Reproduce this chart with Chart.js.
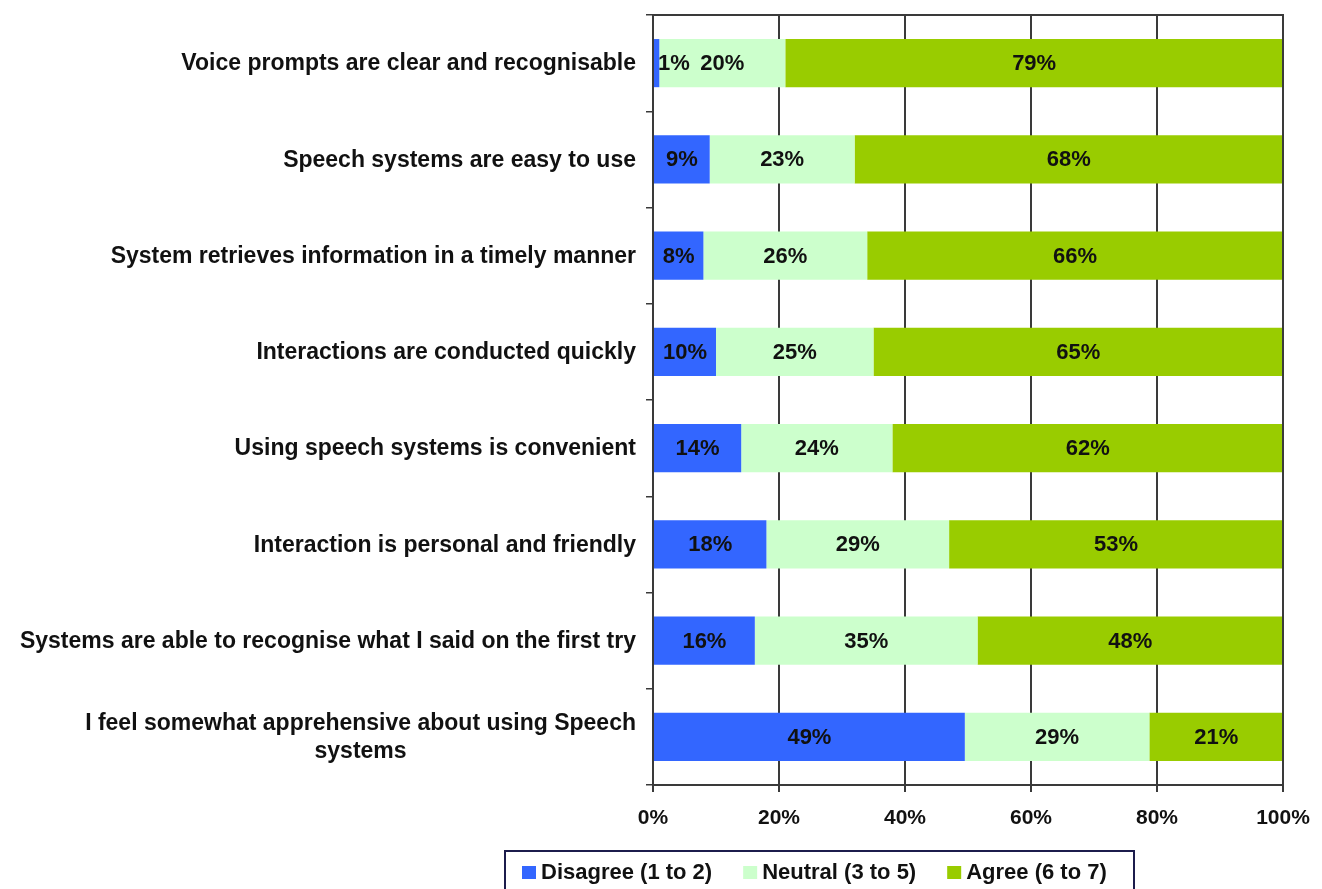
<!DOCTYPE html>
<html>
<head>
<meta charset="utf-8">
<script src="https://cdn.jsdelivr.net/npm/chart.js"></script>
<style>
  html, body { margin: 0; padding: 0; background: #fff; }
  canvas { display: block; }
</style>
</head>
<body>
<canvas id="survey" width="1322" height="889"></canvas>
<script>
// survey answers, per cent of respondents
const statements = [
  'Voice prompts are clear and recognisable',
  'Speech systems are easy to use',
  'System retrieves information in a timely manner',
  'Interactions are conducted quickly',
  'Using speech systems is convenient',
  'Interaction is personal and friendly',
  'Systems are able to recognise what I said on the first try',
  ['I feel somewhat apprehensive about using Speech', 'systems']
];
const disagree = [1, 9, 8, 10, 14, 18, 16, 49];
const neutral = [20, 23, 26, 25, 24, 29, 35, 29];
const agree = [79, 68, 66, 65, 62, 53, 48, 21];
const seriesNames = ['Disagree (1 to 2)', 'Neutral (3 to 5)', 'Agree (6 to 7)'];
const seriesColors = ['#3366FF', '#CCFFCC', '#99CC00'];
const xTicks = [0, 20, 40, 60, 80, 100];

const FONT = '"Liberation Sans", Arial, Helvetica, sans-serif';
const LINE = '#3a3a3a';

// 100% stacked: each row is scaled to its own total
const rows = [disagree, neutral, agree];
const totals = statements.map((_, i) => disagree[i] + neutral[i] + agree[i]);
const datasets = rows.map((vals, k) => ({
  label: seriesNames[k],
  raw: vals,
  data: vals.map((v, i) => v / totals[i] * 100),
  backgroundColor: seriesColors[k],
  borderWidth: 0,
  categoryPercentage: 1,
  barPercentage: 0.5
}));

const barValues = {
  id: 'barValues',
  afterDatasetsDraw(chart) {
    const ctx = chart.ctx;
    ctx.save();
    ctx.font = 'bold 22px ' + FONT;
    ctx.fillStyle = '#111';
    ctx.textAlign = 'center';
    ctx.textBaseline = 'middle';
    chart.data.datasets.forEach((ds, k) => {
      chart.getDatasetMeta(k).data.forEach((bar, i) => {
        const txt = ds.raw[i] + '%';
        const w = ctx.measureText(txt).width;
        const left = Math.min(bar.x, bar.base);
        let cx = (bar.x + bar.base) / 2;
        if (cx < left + w / 2 + 4) cx = left + w / 2 + 4;
        ctx.fillText(txt, cx, bar.y + 1);
      });
    });
    // frame round the plot
    const a = chart.chartArea;
    ctx.strokeStyle = LINE;
    ctx.lineWidth = 2;
    ctx.strokeRect(a.left, a.top, a.right - a.left, a.bottom - a.top);
    ctx.restore();
  }
};

const categoryLabels = {
  id: 'categoryLabels',
  afterDraw(chart) {
    const ctx = chart.ctx;
    const yScale = chart.scales.y;
    const right = chart.chartArea.left - 17;
    ctx.save();
    ctx.font = 'bold 23px ' + FONT;
    ctx.fillStyle = '#111';
    ctx.textAlign = 'center';
    ctx.textBaseline = 'middle';
    statements.forEach((s, i) => {
      const lines = Array.isArray(s) ? s : [s];
      const w = Math.max(...lines.map(l => ctx.measureText(l).width));
      const cx = right - w / 2;
      const cy = yScale.getPixelForValue(i) + 1;
      lines.forEach((l, j) => ctx.fillText(l, cx, cy + (j - (lines.length - 1) / 2) * 28));
    });
    ctx.restore();
  }
};

const legendBox = {
  id: 'legendBox',
  afterDraw(chart) {
    const ctx = chart.ctx;
    ctx.save();
    ctx.strokeStyle = '#1c1c4c';
    ctx.lineWidth = 2;
    ctx.strokeRect(505, 851, 629, 60);
    ctx.font = 'bold 22px ' + FONT;
    ctx.textBaseline = 'middle';
    let x = 522;
    chart.data.datasets.forEach(ds => {
      ctx.fillStyle = ds.backgroundColor;
      ctx.fillRect(x, 866, 14, 13);
      ctx.fillStyle = '#111';
      ctx.fillText(ds.label, x + 19, 873);
      x += 19 + ctx.measureText(ds.label).width + 31;
    });
    ctx.restore();
  }
};

new Chart(document.getElementById('survey'), {
  type: 'bar',
  data: { labels: statements, datasets: datasets },
  options: {
    indexAxis: 'y',
    responsive: false,
    animation: false,
    layout: { padding: { top: 15, right: 39, left: 0, bottom: 0 } },
    plugins: { legend: { display: false }, tooltip: { enabled: false } },
    scales: {
      x: {
        stacked: true,
        min: 0,
        max: 100,
        afterBuildTicks: s => { s.ticks = xTicks.map(v => ({ value: v })); },
        afterFit: s => { s.height = 104; s.paddingLeft = 0; s.paddingRight = 0; },
        ticks: {
          callback: v => v + '%',
          font: { family: FONT, size: 21, weight: 'bold' },
          color: '#111',
          padding: 14,
          maxRotation: 0
        },
        grid: { color: LINE, lineWidth: 2, tickLength: 7 },
        border: { color: LINE, width: 2 }
      },
      y: {
        stacked: true,
        afterFit: s => { s.width = 653; },
        ticks: { display: false },
        grid: { offset: true, drawOnChartArea: false, color: LINE, lineWidth: 1.5, tickLength: 7 },
        border: { color: LINE, width: 2 }
      }
    }
  },
  plugins: [barValues, categoryLabels, legendBox]
});
</script>
</body>
</html>
